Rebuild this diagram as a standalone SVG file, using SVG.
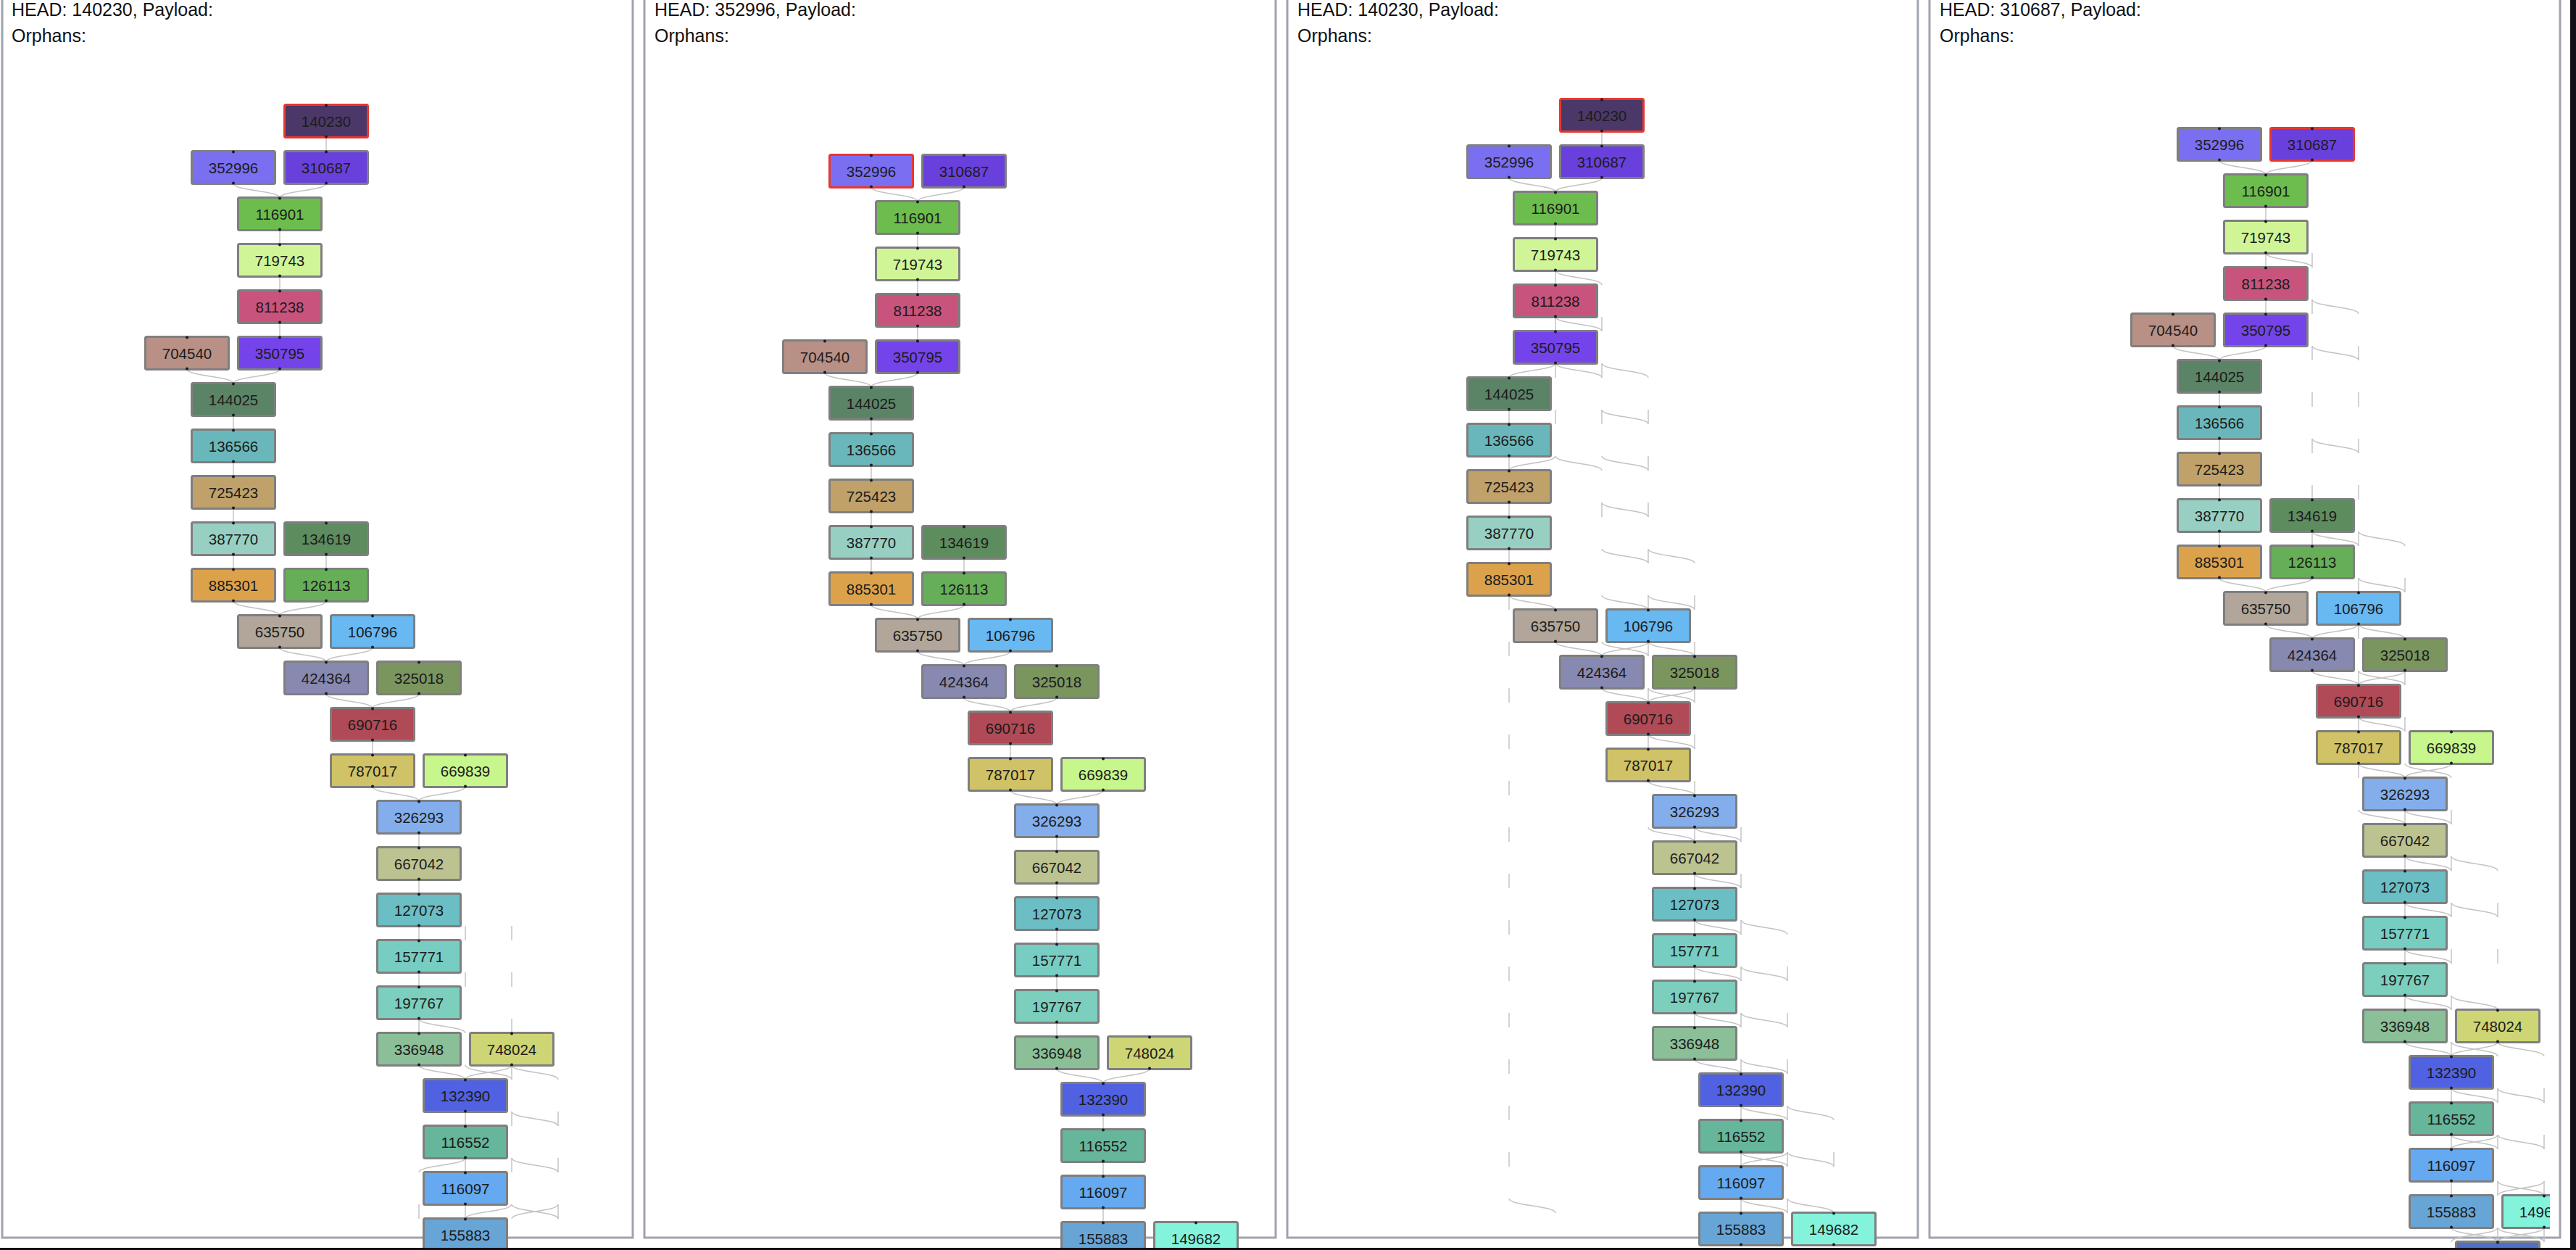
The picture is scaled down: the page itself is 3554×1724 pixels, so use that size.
<svg xmlns="http://www.w3.org/2000/svg" xmlns:xlink="http://www.w3.org/1999/xlink" width="3554" height="1724" viewBox="0 0 3554 1724">
<style>
.n rect{stroke:#7f7f7f;stroke-width:3}
.n.h rect{stroke:#e8372e}
.n text{font-family:"Liberation Sans",Arial,sans-serif;font-size:20.5px;fill:#1c1c1c;text-anchor:middle}
.c path{fill:none;stroke:#c4c4c4;stroke-width:1.5}
.hd{font-family:"Liberation Sans",Arial,sans-serif;font-size:25px;fill:#111}
.frame{fill:none;stroke:#9fa3af;stroke-width:3}
</style>
<defs>
<g id="pt" fill="#1b1b2a"><circle cx="59" cy="2.5" r="2"/><circle cx="59" cy="45.5" r="2"/></g>
<clipPath id="clip4"><rect x="-300" y="-300" width="879" height="2200"/></clipPath>
</defs>
<rect width="3554" height="1724" fill="#fff"/>
<g id="frames">
<rect class="frame" x="3" y="-20" width="870" height="1727"/>
<rect class="frame" x="889" y="-20" width="871" height="1727"/>
<rect class="frame" x="1776" y="-20" width="870" height="1727"/>
<rect class="frame" x="2662" y="-20" width="870" height="1727"/>
</g>
<g id="headers">
<text class="hd" x="16" y="22">HEAD: 140230, Payload:</text>
<text class="hd" x="16" y="58">Orphans:</text>
<text class="hd" x="903" y="22">HEAD: 352996, Payload:</text>
<text class="hd" x="903" y="58">Orphans:</text>
<text class="hd" x="1790" y="22">HEAD: 140230, Payload:</text>
<text class="hd" x="1790" y="58">Orphans:</text>
<text class="hd" x="2676" y="22">HEAD: 310687, Payload:</text>
<text class="hd" x="2676" y="58">Orphans:</text>
</g>

<!-- PANEL 1 -->
<g id="panel1" transform="translate(199 143)">
<g id="p1-connectors" class="c">
<path d="M251 46V66"/>
<path d="M123 110C123 120 187 120 187 130"/><path d="M251 110C251 120 187 120 187 130"/>
<path d="M187 174V194"/><path d="M187 238V258"/><path d="M187 302V322"/>
<path d="M59 366C59 376 123 376 123 386"/><path d="M187 366C187 376 123 376 123 386"/>
<path d="M123 430V450"/><path d="M123 494V514"/><path d="M123 558V578"/>
<path d="M123 622V642"/><path d="M251 622V642"/>
<path d="M123 686C123 696 187 696 187 706"/><path d="M251 686C251 696 187 696 187 706"/>
<path d="M187 750C187 760 251 760 251 770"/><path d="M315 750C315 760 251 760 251 770"/>
<path d="M251 814C251 824 315 824 315 834"/><path d="M379 814C379 824 315 824 315 834"/>
<path d="M315 878V898"/>
<path d="M315 942C315 952 379 952 379 962"/><path d="M443 942C443 952 379 952 379 962"/>
<path d="M379 1006V1026"/><path d="M379 1070V1090"/><path d="M379 1134V1154"/><path d="M379 1198V1218"/><path d="M379 1262V1282"/>
<path d="M379 1326C379 1336 443 1336 443 1346"/><path d="M507 1326C507 1336 443 1336 443 1346"/>
<path d="M443 1390V1410"/><path d="M443 1454V1474"/><path d="M443 1518V1538"/>
<path d="M443 1134V1154"/><path d="M507 1134V1154"/>
<path d="M443 1198V1218"/><path d="M507 1198V1218"/>
<path d="M379 1262C379 1272 443 1272 443 1282"/><path d="M507 1262V1282"/>
<path d="M507 1326V1346"/><path d="M507 1326C507 1336 571 1336 571 1346"/><path d="M443 1326C443 1336 507 1336 507 1346"/>
<path d="M507 1390V1410"/><path d="M507 1390C507 1400 571 1400 571 1410"/><path d="M571 1390V1410"/>
<path d="M443 1454C443 1464 379 1464 379 1474"/><path d="M507 1454V1474"/><path d="M507 1454C507 1464 571 1464 571 1474"/><path d="M571 1454V1474"/>
<path d="M379 1518V1538"/><path d="M507 1518C507 1528 443 1528 443 1538"/><path d="M507 1518C507 1528 571 1528 571 1538"/><path d="M571 1518C571 1528 507 1528 507 1538"/><path d="M571 1518V1538"/>
</g>
<g id="p1-140230" class="n h" transform="translate(192 0)"><rect x="1.5" y="1.5" width="115" height="45" rx="2" fill="#4b3869"/><text x="59" y="31.5">140230</text><use href="#pt"/></g>
<g id="p1-352996" class="n" transform="translate(64 64)"><rect x="1.5" y="1.5" width="115" height="45" rx="2" fill="#7a6ff0"/><text x="59" y="31.5">352996</text><use href="#pt"/></g>
<g id="p1-310687" class="n" transform="translate(192 64)"><rect x="1.5" y="1.5" width="115" height="45" rx="2" fill="#6a40dc"/><text x="59" y="31.5">310687</text><use href="#pt"/></g>
<g id="p1-116901" class="n" transform="translate(128 128)"><rect x="1.5" y="1.5" width="115" height="45" rx="2" fill="#6cbd4d"/><text x="59" y="31.5">116901</text><use href="#pt"/></g>
<g id="p1-719743" class="n" transform="translate(128 192)"><rect x="1.5" y="1.5" width="115" height="45" rx="2" fill="#d0f597"/><text x="59" y="31.5">719743</text><use href="#pt"/></g>
<g id="p1-811238" class="n" transform="translate(128 256)"><rect x="1.5" y="1.5" width="115" height="45" rx="2" fill="#c8547d"/><text x="59" y="31.5">811238</text><use href="#pt"/></g>
<g id="p1-704540" class="n" transform="translate(0 320)"><rect x="1.5" y="1.5" width="115" height="45" rx="2" fill="#b99086"/><text x="59" y="31.5">704540</text><use href="#pt"/></g>
<g id="p1-350795" class="n" transform="translate(128 320)"><rect x="1.5" y="1.5" width="115" height="45" rx="2" fill="#7444ea"/><text x="59" y="31.5">350795</text><use href="#pt"/></g>
<g id="p1-144025" class="n" transform="translate(64 384)"><rect x="1.5" y="1.5" width="115" height="45" rx="2" fill="#5b8466"/><text x="59" y="31.5">144025</text><use href="#pt"/></g>
<g id="p1-136566" class="n" transform="translate(64 448)"><rect x="1.5" y="1.5" width="115" height="45" rx="2" fill="#6ab7bb"/><text x="59" y="31.5">136566</text><use href="#pt"/></g>
<g id="p1-725423" class="n" transform="translate(64 512)"><rect x="1.5" y="1.5" width="115" height="45" rx="2" fill="#c0a16a"/><text x="59" y="31.5">725423</text><use href="#pt"/></g>
<g id="p1-387770" class="n" transform="translate(64 576)"><rect x="1.5" y="1.5" width="115" height="45" rx="2" fill="#97d0c3"/><text x="59" y="31.5">387770</text><use href="#pt"/></g>
<g id="p1-134619" class="n" transform="translate(192 576)"><rect x="1.5" y="1.5" width="115" height="45" rx="2" fill="#5d8c5f"/><text x="59" y="31.5">134619</text><use href="#pt"/></g>
<g id="p1-885301" class="n" transform="translate(64 640)"><rect x="1.5" y="1.5" width="115" height="45" rx="2" fill="#dca24b"/><text x="59" y="31.5">885301</text><use href="#pt"/></g>
<g id="p1-126113" class="n" transform="translate(192 640)"><rect x="1.5" y="1.5" width="115" height="45" rx="2" fill="#67ae58"/><text x="59" y="31.5">126113</text><use href="#pt"/></g>
<g id="p1-635750" class="n" transform="translate(128 704)"><rect x="1.5" y="1.5" width="115" height="45" rx="2" fill="#b1a699"/><text x="59" y="31.5">635750</text><use href="#pt"/></g>
<g id="p1-106796" class="n" transform="translate(256 704)"><rect x="1.5" y="1.5" width="115" height="45" rx="2" fill="#68b8f1"/><text x="59" y="31.5">106796</text><use href="#pt"/></g>
<g id="p1-424364" class="n" transform="translate(192 768)"><rect x="1.5" y="1.5" width="115" height="45" rx="2" fill="#8889b1"/><text x="59" y="31.5">424364</text><use href="#pt"/></g>
<g id="p1-325018" class="n" transform="translate(320 768)"><rect x="1.5" y="1.5" width="115" height="45" rx="2" fill="#7b955f"/><text x="59" y="31.5">325018</text><use href="#pt"/></g>
<g id="p1-690716" class="n" transform="translate(256 832)"><rect x="1.5" y="1.5" width="115" height="45" rx="2" fill="#b04a56"/><text x="59" y="31.5">690716</text><use href="#pt"/></g>
<g id="p1-787017" class="n" transform="translate(256 896)"><rect x="1.5" y="1.5" width="115" height="45" rx="2" fill="#d0c266"/><text x="59" y="31.5">787017</text><use href="#pt"/></g>
<g id="p1-669839" class="n" transform="translate(384 896)"><rect x="1.5" y="1.5" width="115" height="45" rx="2" fill="#c7f68c"/><text x="59" y="31.5">669839</text><use href="#pt"/></g>
<g id="p1-326293" class="n" transform="translate(320 960)"><rect x="1.5" y="1.5" width="115" height="45" rx="2" fill="#83aeeb"/><text x="59" y="31.5">326293</text><use href="#pt"/></g>
<g id="p1-667042" class="n" transform="translate(320 1024)"><rect x="1.5" y="1.5" width="115" height="45" rx="2" fill="#bcc390"/><text x="59" y="31.5">667042</text><use href="#pt"/></g>
<g id="p1-127073" class="n" transform="translate(320 1088)"><rect x="1.5" y="1.5" width="115" height="45" rx="2" fill="#6bbec4"/><text x="59" y="31.5">127073</text><use href="#pt"/></g>
<g id="p1-157771" class="n" transform="translate(320 1152)"><rect x="1.5" y="1.5" width="115" height="45" rx="2" fill="#77cdc2"/><text x="59" y="31.5">157771</text><use href="#pt"/></g>
<g id="p1-197767" class="n" transform="translate(320 1216)"><rect x="1.5" y="1.5" width="115" height="45" rx="2" fill="#7ccebd"/><text x="59" y="31.5">197767</text><use href="#pt"/></g>
<g id="p1-336948" class="n" transform="translate(320 1280)"><rect x="1.5" y="1.5" width="115" height="45" rx="2" fill="#8abf97"/><text x="59" y="31.5">336948</text><use href="#pt"/></g>
<g id="p1-748024" class="n" transform="translate(448 1280)"><rect x="1.5" y="1.5" width="115" height="45" rx="2" fill="#ced574"/><text x="59" y="31.5">748024</text><use href="#pt"/></g>
<g id="p1-132390" class="n" transform="translate(384 1344)"><rect x="1.5" y="1.5" width="115" height="45" rx="2" fill="#5061e1"/><text x="59" y="31.5">132390</text><use href="#pt"/></g>
<g id="p1-116552" class="n" transform="translate(384 1408)"><rect x="1.5" y="1.5" width="115" height="45" rx="2" fill="#66b69b"/><text x="59" y="31.5">116552</text><use href="#pt"/></g>
<g id="p1-116097" class="n" transform="translate(384 1472)"><rect x="1.5" y="1.5" width="115" height="45" rx="2" fill="#65a9f1"/><text x="59" y="31.5">116097</text><use href="#pt"/></g>
<g id="p1-155883" class="n" transform="translate(384 1536)"><rect x="1.5" y="1.5" width="115" height="45" rx="2" fill="#68a5d7"/><text x="59" y="31.5">155883</text><use href="#pt"/></g>
</g>

<!-- PANEL 2 -->
<g id="panel2" transform="translate(1079 212)">
<g id="p2-connectors" class="c">
<path d="M123 46C123 56 187 56 187 66"/><path d="M251 46C251 56 187 56 187 66"/>
<path d="M187 110V130"/><path d="M187 174V194"/><path d="M187 238V258"/>
<path d="M59 302C59 312 123 312 123 322"/><path d="M187 302C187 312 123 312 123 322"/>
<path d="M123 366V386"/><path d="M123 430V450"/><path d="M123 494V514"/>
<path d="M123 558V578"/><path d="M251 558V578"/>
<path d="M123 622C123 632 187 632 187 642"/><path d="M251 622C251 632 187 632 187 642"/>
<path d="M187 686C187 696 251 696 251 706"/><path d="M315 686C315 696 251 696 251 706"/>
<path d="M251 750C251 760 315 760 315 770"/><path d="M379 750C379 760 315 760 315 770"/>
<path d="M315 814V834"/>
<path d="M315 878C315 888 379 888 379 898"/><path d="M443 878C443 888 379 888 379 898"/>
<path d="M379 942V962"/><path d="M379 1006V1026"/><path d="M379 1070V1090"/><path d="M379 1134V1154"/><path d="M379 1198V1218"/>
<path d="M379 1262C379 1272 443 1272 443 1282"/><path d="M507 1262C507 1272 443 1272 443 1282"/>
<path d="M443 1326V1346"/><path d="M443 1390V1410"/><path d="M443 1454V1474"/>
</g>
<g id="p2-352996" class="n h" transform="translate(64 0)"><rect x="1.5" y="1.5" width="115" height="45" rx="2" fill="#7a6ff0"/><text x="59" y="31.5">352996</text><use href="#pt"/></g>
<g id="p2-310687" class="n" transform="translate(192 0)"><rect x="1.5" y="1.5" width="115" height="45" rx="2" fill="#6a40dc"/><text x="59" y="31.5">310687</text><use href="#pt"/></g>
<g id="p2-116901" class="n" transform="translate(128 64)"><rect x="1.5" y="1.5" width="115" height="45" rx="2" fill="#6cbd4d"/><text x="59" y="31.5">116901</text><use href="#pt"/></g>
<g id="p2-719743" class="n" transform="translate(128 128)"><rect x="1.5" y="1.5" width="115" height="45" rx="2" fill="#d0f597"/><text x="59" y="31.5">719743</text><use href="#pt"/></g>
<g id="p2-811238" class="n" transform="translate(128 192)"><rect x="1.5" y="1.5" width="115" height="45" rx="2" fill="#c8547d"/><text x="59" y="31.5">811238</text><use href="#pt"/></g>
<g id="p2-704540" class="n" transform="translate(0 256)"><rect x="1.5" y="1.5" width="115" height="45" rx="2" fill="#b99086"/><text x="59" y="31.5">704540</text><use href="#pt"/></g>
<g id="p2-350795" class="n" transform="translate(128 256)"><rect x="1.5" y="1.5" width="115" height="45" rx="2" fill="#7444ea"/><text x="59" y="31.5">350795</text><use href="#pt"/></g>
<g id="p2-144025" class="n" transform="translate(64 320)"><rect x="1.5" y="1.5" width="115" height="45" rx="2" fill="#5b8466"/><text x="59" y="31.5">144025</text><use href="#pt"/></g>
<g id="p2-136566" class="n" transform="translate(64 384)"><rect x="1.5" y="1.5" width="115" height="45" rx="2" fill="#6ab7bb"/><text x="59" y="31.5">136566</text><use href="#pt"/></g>
<g id="p2-725423" class="n" transform="translate(64 448)"><rect x="1.5" y="1.5" width="115" height="45" rx="2" fill="#c0a16a"/><text x="59" y="31.5">725423</text><use href="#pt"/></g>
<g id="p2-387770" class="n" transform="translate(64 512)"><rect x="1.5" y="1.5" width="115" height="45" rx="2" fill="#97d0c3"/><text x="59" y="31.5">387770</text><use href="#pt"/></g>
<g id="p2-134619" class="n" transform="translate(192 512)"><rect x="1.5" y="1.5" width="115" height="45" rx="2" fill="#5d8c5f"/><text x="59" y="31.5">134619</text><use href="#pt"/></g>
<g id="p2-885301" class="n" transform="translate(64 576)"><rect x="1.5" y="1.5" width="115" height="45" rx="2" fill="#dca24b"/><text x="59" y="31.5">885301</text><use href="#pt"/></g>
<g id="p2-126113" class="n" transform="translate(192 576)"><rect x="1.5" y="1.5" width="115" height="45" rx="2" fill="#67ae58"/><text x="59" y="31.5">126113</text><use href="#pt"/></g>
<g id="p2-635750" class="n" transform="translate(128 640)"><rect x="1.5" y="1.5" width="115" height="45" rx="2" fill="#b1a699"/><text x="59" y="31.5">635750</text><use href="#pt"/></g>
<g id="p2-106796" class="n" transform="translate(256 640)"><rect x="1.5" y="1.5" width="115" height="45" rx="2" fill="#68b8f1"/><text x="59" y="31.5">106796</text><use href="#pt"/></g>
<g id="p2-424364" class="n" transform="translate(192 704)"><rect x="1.5" y="1.5" width="115" height="45" rx="2" fill="#8889b1"/><text x="59" y="31.5">424364</text><use href="#pt"/></g>
<g id="p2-325018" class="n" transform="translate(320 704)"><rect x="1.5" y="1.5" width="115" height="45" rx="2" fill="#7b955f"/><text x="59" y="31.5">325018</text><use href="#pt"/></g>
<g id="p2-690716" class="n" transform="translate(256 768)"><rect x="1.5" y="1.5" width="115" height="45" rx="2" fill="#b04a56"/><text x="59" y="31.5">690716</text><use href="#pt"/></g>
<g id="p2-787017" class="n" transform="translate(256 832)"><rect x="1.5" y="1.5" width="115" height="45" rx="2" fill="#d0c266"/><text x="59" y="31.5">787017</text><use href="#pt"/></g>
<g id="p2-669839" class="n" transform="translate(384 832)"><rect x="1.5" y="1.5" width="115" height="45" rx="2" fill="#c7f68c"/><text x="59" y="31.5">669839</text><use href="#pt"/></g>
<g id="p2-326293" class="n" transform="translate(320 896)"><rect x="1.5" y="1.5" width="115" height="45" rx="2" fill="#83aeeb"/><text x="59" y="31.5">326293</text><use href="#pt"/></g>
<g id="p2-667042" class="n" transform="translate(320 960)"><rect x="1.5" y="1.5" width="115" height="45" rx="2" fill="#bcc390"/><text x="59" y="31.5">667042</text><use href="#pt"/></g>
<g id="p2-127073" class="n" transform="translate(320 1024)"><rect x="1.5" y="1.5" width="115" height="45" rx="2" fill="#6bbec4"/><text x="59" y="31.5">127073</text><use href="#pt"/></g>
<g id="p2-157771" class="n" transform="translate(320 1088)"><rect x="1.5" y="1.5" width="115" height="45" rx="2" fill="#77cdc2"/><text x="59" y="31.5">157771</text><use href="#pt"/></g>
<g id="p2-197767" class="n" transform="translate(320 1152)"><rect x="1.5" y="1.5" width="115" height="45" rx="2" fill="#7ccebd"/><text x="59" y="31.5">197767</text><use href="#pt"/></g>
<g id="p2-336948" class="n" transform="translate(320 1216)"><rect x="1.5" y="1.5" width="115" height="45" rx="2" fill="#8abf97"/><text x="59" y="31.5">336948</text><use href="#pt"/></g>
<g id="p2-748024" class="n" transform="translate(448 1216)"><rect x="1.5" y="1.5" width="115" height="45" rx="2" fill="#ced574"/><text x="59" y="31.5">748024</text><use href="#pt"/></g>
<g id="p2-132390" class="n" transform="translate(384 1280)"><rect x="1.5" y="1.5" width="115" height="45" rx="2" fill="#5061e1"/><text x="59" y="31.5">132390</text><use href="#pt"/></g>
<g id="p2-116552" class="n" transform="translate(384 1344)"><rect x="1.5" y="1.5" width="115" height="45" rx="2" fill="#66b69b"/><text x="59" y="31.5">116552</text><use href="#pt"/></g>
<g id="p2-116097" class="n" transform="translate(384 1408)"><rect x="1.5" y="1.5" width="115" height="45" rx="2" fill="#65a9f1"/><text x="59" y="31.5">116097</text><use href="#pt"/></g>
<g id="p2-155883" class="n" transform="translate(384 1472)"><rect x="1.5" y="1.5" width="115" height="45" rx="2" fill="#68a5d7"/><text x="59" y="31.5">155883</text><use href="#pt"/></g>
<g id="p2-149682" class="n" transform="translate(512 1472)"><rect x="1.5" y="1.5" width="115" height="45" rx="2" fill="#84f3dc"/><text x="59" y="31.5">149682</text><use href="#pt"/></g>
</g>

<!-- PANEL 3 -->
<g id="panel3" transform="translate(1959 135)">
<g id="p3-connectors" class="c">
<path d="M251 46V66"/>
<path d="M123 110C123 120 187 120 187 130"/><path d="M251 110C251 120 187 120 187 130"/>
<path d="M187 174V194"/><path d="M187 238V258"/><path d="M187 302V322"/>
<path d="M187 366C187 376 123 376 123 386"/>
<path d="M123 430V450"/><path d="M123 494V514"/><path d="M123 558V578"/><path d="M123 622V642"/>
<path d="M123 686C123 696 187 696 187 706"/>
<path d="M187 750C187 760 251 760 251 770"/><path d="M315 750C315 760 251 760 251 770"/>
<path d="M251 814C251 824 315 824 315 834"/><path d="M379 814C379 824 315 824 315 834"/>
<path d="M315 878V898"/>
<path d="M315 942C315 952 379 952 379 962"/>
<path d="M379 1006V1026"/><path d="M379 1070V1090"/><path d="M379 1134V1154"/><path d="M379 1198V1218"/><path d="M379 1262V1282"/>
<path d="M379 1326C379 1336 443 1336 443 1346"/>
<path d="M443 1390V1410"/><path d="M443 1454V1474"/><path d="M443 1518V1538"/>
<path d="M187 238C187 248 251 248 251 258"/>
<path d="M187 302C187 312 251 312 251 322"/><path d="M251 302V322"/>
<path d="M187 366V386"/><path d="M187 366C187 376 251 376 251 386"/><path d="M251 366V386"/><path d="M251 366C251 376 315 376 315 386"/>
<path d="M187 430V450"/><path d="M251 430V450"/><path d="M251 430C251 440 315 440 315 450"/><path d="M315 430V450"/>
<path d="M187 494C187 504 123 504 123 514"/><path d="M187 494C187 504 251 504 251 514"/><path d="M251 494C251 504 315 504 315 514"/><path d="M315 494V514"/>
<path d="M251 558V578"/><path d="M251 558C251 568 315 568 315 578"/><path d="M315 558V578"/>
<path d="M251 622C251 632 315 632 315 642"/><path d="M315 622V642"/><path d="M315 622C315 632 379 632 379 642"/>
<path d="M123 686V706"/><path d="M251 686C251 696 315 696 315 706"/><path d="M315 686V706"/><path d="M315 686C315 696 379 696 379 706"/><path d="M379 686V706"/>
<path d="M123 750V770"/><path d="M251 750C251 760 315 760 315 770"/><path d="M315 750V770"/><path d="M315 750C315 760 379 760 379 770"/><path d="M379 750V770"/>
<path d="M123 814V834"/><path d="M315 814V834"/><path d="M379 814V834"/><path d="M315 814C315 824 379 824 379 834"/>
<path d="M123 878V898"/><path d="M315 878C315 888 379 888 379 898"/><path d="M379 878V898"/>
<path d="M123 942V962"/><path d="M379 942V962"/>
<path d="M123 1006V1026"/><path d="M315 1006C315 1016 379 1016 379 1026"/><path d="M379 1006C379 1016 443 1016 443 1026"/><path d="M443 1006V1026"/>
<path d="M123 1070V1090"/><path d="M379 1070C379 1080 443 1080 443 1090"/><path d="M443 1070V1090"/>
<path d="M123 1134V1154"/><path d="M379 1134C379 1144 443 1144 443 1154"/><path d="M443 1134C443 1144 507 1144 507 1154"/><path d="M443 1134V1154"/>
<path d="M123 1198V1218"/><path d="M379 1198C379 1208 443 1208 443 1218"/><path d="M443 1198V1218"/><path d="M443 1198C443 1208 507 1208 507 1218"/><path d="M507 1198V1218"/>
<path d="M123 1262V1282"/><path d="M379 1262C379 1272 443 1272 443 1282"/><path d="M443 1262V1282"/><path d="M443 1262C443 1272 507 1272 507 1282"/><path d="M507 1262V1282"/>
<path d="M123 1326V1346"/><path d="M443 1326V1346"/><path d="M443 1326C443 1336 507 1336 507 1346"/><path d="M507 1326V1346"/>
<path d="M123 1390V1410"/><path d="M443 1390C443 1400 507 1400 507 1410"/><path d="M507 1390V1410"/><path d="M507 1390C507 1400 571 1400 571 1410"/>
<path d="M123 1454V1474"/><path d="M443 1454C443 1464 507 1464 507 1474"/><path d="M507 1454C507 1464 443 1464 443 1474"/><path d="M507 1454V1474"/><path d="M507 1454C507 1464 571 1464 571 1474"/><path d="M571 1454V1474"/>
<path d="M123 1518C123 1528 187 1528 187 1538"/><path d="M443 1518C443 1528 507 1528 507 1538"/><path d="M507 1518V1538"/><path d="M507 1518C507 1528 571 1528 571 1538"/>
</g>
<g id="p3-140230" class="n h" transform="translate(192 0)"><rect x="1.5" y="1.5" width="115" height="45" rx="2" fill="#4b3869"/><text x="59" y="31.5">140230</text><use href="#pt"/></g>
<g id="p3-352996" class="n" transform="translate(64 64)"><rect x="1.5" y="1.5" width="115" height="45" rx="2" fill="#7a6ff0"/><text x="59" y="31.5">352996</text><use href="#pt"/></g>
<g id="p3-310687" class="n" transform="translate(192 64)"><rect x="1.5" y="1.5" width="115" height="45" rx="2" fill="#6a40dc"/><text x="59" y="31.5">310687</text><use href="#pt"/></g>
<g id="p3-116901" class="n" transform="translate(128 128)"><rect x="1.5" y="1.5" width="115" height="45" rx="2" fill="#6cbd4d"/><text x="59" y="31.5">116901</text><use href="#pt"/></g>
<g id="p3-719743" class="n" transform="translate(128 192)"><rect x="1.5" y="1.5" width="115" height="45" rx="2" fill="#d0f597"/><text x="59" y="31.5">719743</text><use href="#pt"/></g>
<g id="p3-811238" class="n" transform="translate(128 256)"><rect x="1.5" y="1.5" width="115" height="45" rx="2" fill="#c8547d"/><text x="59" y="31.5">811238</text><use href="#pt"/></g>
<g id="p3-350795" class="n" transform="translate(128 320)"><rect x="1.5" y="1.5" width="115" height="45" rx="2" fill="#7444ea"/><text x="59" y="31.5">350795</text><use href="#pt"/></g>
<g id="p3-144025" class="n" transform="translate(64 384)"><rect x="1.5" y="1.5" width="115" height="45" rx="2" fill="#5b8466"/><text x="59" y="31.5">144025</text><use href="#pt"/></g>
<g id="p3-136566" class="n" transform="translate(64 448)"><rect x="1.5" y="1.5" width="115" height="45" rx="2" fill="#6ab7bb"/><text x="59" y="31.5">136566</text><use href="#pt"/></g>
<g id="p3-725423" class="n" transform="translate(64 512)"><rect x="1.5" y="1.5" width="115" height="45" rx="2" fill="#c0a16a"/><text x="59" y="31.5">725423</text><use href="#pt"/></g>
<g id="p3-387770" class="n" transform="translate(64 576)"><rect x="1.5" y="1.5" width="115" height="45" rx="2" fill="#97d0c3"/><text x="59" y="31.5">387770</text><use href="#pt"/></g>
<g id="p3-885301" class="n" transform="translate(64 640)"><rect x="1.5" y="1.5" width="115" height="45" rx="2" fill="#dca24b"/><text x="59" y="31.5">885301</text><use href="#pt"/></g>
<g id="p3-635750" class="n" transform="translate(128 704)"><rect x="1.5" y="1.5" width="115" height="45" rx="2" fill="#b1a699"/><text x="59" y="31.5">635750</text><use href="#pt"/></g>
<g id="p3-106796" class="n" transform="translate(256 704)"><rect x="1.5" y="1.5" width="115" height="45" rx="2" fill="#68b8f1"/><text x="59" y="31.5">106796</text><use href="#pt"/></g>
<g id="p3-424364" class="n" transform="translate(192 768)"><rect x="1.5" y="1.5" width="115" height="45" rx="2" fill="#8889b1"/><text x="59" y="31.5">424364</text><use href="#pt"/></g>
<g id="p3-325018" class="n" transform="translate(320 768)"><rect x="1.5" y="1.5" width="115" height="45" rx="2" fill="#7b955f"/><text x="59" y="31.5">325018</text><use href="#pt"/></g>
<g id="p3-690716" class="n" transform="translate(256 832)"><rect x="1.5" y="1.5" width="115" height="45" rx="2" fill="#b04a56"/><text x="59" y="31.5">690716</text><use href="#pt"/></g>
<g id="p3-787017" class="n" transform="translate(256 896)"><rect x="1.5" y="1.5" width="115" height="45" rx="2" fill="#d0c266"/><text x="59" y="31.5">787017</text><use href="#pt"/></g>
<g id="p3-326293" class="n" transform="translate(320 960)"><rect x="1.5" y="1.5" width="115" height="45" rx="2" fill="#83aeeb"/><text x="59" y="31.5">326293</text><use href="#pt"/></g>
<g id="p3-667042" class="n" transform="translate(320 1024)"><rect x="1.5" y="1.5" width="115" height="45" rx="2" fill="#bcc390"/><text x="59" y="31.5">667042</text><use href="#pt"/></g>
<g id="p3-127073" class="n" transform="translate(320 1088)"><rect x="1.5" y="1.5" width="115" height="45" rx="2" fill="#6bbec4"/><text x="59" y="31.5">127073</text><use href="#pt"/></g>
<g id="p3-157771" class="n" transform="translate(320 1152)"><rect x="1.5" y="1.5" width="115" height="45" rx="2" fill="#77cdc2"/><text x="59" y="31.5">157771</text><use href="#pt"/></g>
<g id="p3-197767" class="n" transform="translate(320 1216)"><rect x="1.5" y="1.5" width="115" height="45" rx="2" fill="#7ccebd"/><text x="59" y="31.5">197767</text><use href="#pt"/></g>
<g id="p3-336948" class="n" transform="translate(320 1280)"><rect x="1.5" y="1.5" width="115" height="45" rx="2" fill="#8abf97"/><text x="59" y="31.5">336948</text><use href="#pt"/></g>
<g id="p3-132390" class="n" transform="translate(384 1344)"><rect x="1.5" y="1.5" width="115" height="45" rx="2" fill="#5061e1"/><text x="59" y="31.5">132390</text><use href="#pt"/></g>
<g id="p3-116552" class="n" transform="translate(384 1408)"><rect x="1.5" y="1.5" width="115" height="45" rx="2" fill="#66b69b"/><text x="59" y="31.5">116552</text><use href="#pt"/></g>
<g id="p3-116097" class="n" transform="translate(384 1472)"><rect x="1.5" y="1.5" width="115" height="45" rx="2" fill="#65a9f1"/><text x="59" y="31.5">116097</text><use href="#pt"/></g>
<g id="p3-155883" class="n" transform="translate(384 1536)"><rect x="1.5" y="1.5" width="115" height="45" rx="2" fill="#68a5d7"/><text x="59" y="31.5">155883</text><use href="#pt"/></g>
<g id="p3-149682" class="n" transform="translate(512 1536)"><rect x="1.5" y="1.5" width="115" height="45" rx="2" fill="#84f3dc"/><text x="59" y="31.5">149682</text><use href="#pt"/></g>
</g>

<!-- PANEL 4 -->
<g id="panel4" transform="translate(2939 175)" clip-path="url(#clip4)">
<g id="p4-connectors" class="c">
<path d="M123 46C123 56 187 56 187 66"/><path d="M251 46C251 56 187 56 187 66"/>
<path d="M187 110V130"/><path d="M187 174V194"/><path d="M187 238V258"/>
<path d="M59 302C59 312 123 312 123 322"/><path d="M187 302C187 312 123 312 123 322"/>
<path d="M123 366V386"/><path d="M123 430V450"/><path d="M123 494V514"/>
<path d="M123 558V578"/><path d="M251 558V578"/>
<path d="M123 622C123 632 187 632 187 642"/><path d="M251 622C251 632 187 632 187 642"/>
<path d="M187 686C187 696 251 696 251 706"/><path d="M315 686C315 696 251 696 251 706"/>
<path d="M251 750C251 760 315 760 315 770"/><path d="M379 750C379 760 315 760 315 770"/>
<path d="M315 814V834"/>
<path d="M315 878C315 888 379 888 379 898"/><path d="M443 878C443 888 379 888 379 898"/>
<path d="M379 942V962"/><path d="M379 1006V1026"/><path d="M379 1070V1090"/><path d="M379 1134V1154"/><path d="M379 1198V1218"/>
<path d="M379 1262C379 1272 443 1272 443 1282"/><path d="M507 1262C507 1272 443 1272 443 1282"/>
<path d="M443 1326V1346"/><path d="M443 1390V1410"/><path d="M443 1454V1474"/>
<path d="M443 1518C443 1528 507 1528 507 1538"/><path d="M571 1518C571 1528 507 1528 507 1538"/>
<path d="M187 174C187 184 251 184 251 194"/><path d="M251 174V194"/>
<path d="M251 238V258"/><path d="M251 238C251 248 315 248 315 258"/>
<path d="M251 302V322"/><path d="M251 302C251 312 315 312 315 322"/><path d="M315 302V322"/>
<path d="M251 366V386"/><path d="M315 366V386"/>
<path d="M251 430V450"/><path d="M251 430C251 440 315 440 315 450"/><path d="M315 430V450"/>
<path d="M251 494V514"/><path d="M315 494V514"/>
<path d="M251 558C251 568 315 568 315 578"/><path d="M315 558V578"/><path d="M315 558C315 568 379 568 379 578"/>
<path d="M315 622V642"/><path d="M315 622C315 632 379 632 379 642"/><path d="M379 622V642"/>
<path d="M315 686V706"/><path d="M315 686C315 696 379 696 379 706"/>
<path d="M315 750V770"/><path d="M315 750C315 760 379 760 379 770"/><path d="M379 750V770"/>
<path d="M315 814C315 824 379 824 379 834"/><path d="M379 814V834"/>
<path d="M315 878V898"/><path d="M379 878C379 888 443 888 443 898"/>
<path d="M315 942C315 952 379 952 379 962"/><path d="M379 942C379 952 443 952 443 962"/><path d="M443 942V962"/>
<path d="M379 1006C379 1016 443 1016 443 1026"/><path d="M443 1006V1026"/><path d="M443 1006C443 1016 507 1016 507 1026"/>
<path d="M379 1070C379 1080 443 1080 443 1090"/><path d="M443 1070V1090"/><path d="M443 1070C443 1080 507 1080 507 1090"/><path d="M507 1070V1090"/>
<path d="M379 1134C379 1144 443 1144 443 1154"/><path d="M443 1134V1154"/><path d="M507 1134V1154"/>
<path d="M379 1198C379 1208 443 1208 443 1218"/><path d="M443 1198V1218"/><path d="M443 1198C443 1208 507 1208 507 1218"/>
<path d="M443 1262V1282"/><path d="M443 1262C443 1272 507 1272 507 1282"/><path d="M507 1262C507 1272 571 1272 571 1282"/>
<path d="M443 1326C443 1336 507 1336 507 1346"/><path d="M507 1326V1346"/><path d="M507 1326C507 1336 571 1336 571 1346"/><path d="M571 1326V1346"/>
<path d="M443 1390C443 1400 507 1400 507 1410"/><path d="M507 1390C507 1400 443 1400 443 1410"/><path d="M507 1390V1410"/><path d="M507 1390C507 1400 571 1400 571 1410"/><path d="M571 1390V1410"/>
<path d="M507 1454V1474"/><path d="M507 1454C507 1464 571 1464 571 1474"/><path d="M571 1454C571 1464 507 1464 507 1474"/><path d="M571 1454V1474"/>
<path d="M507 1518C507 1528 443 1528 443 1538"/><path d="M507 1518C507 1528 571 1528 571 1538"/><path d="M507 1518V1538"/><path d="M571 1518V1538"/>
</g>
<g id="p4-352996" class="n" transform="translate(64 0)"><rect x="1.5" y="1.5" width="115" height="45" rx="2" fill="#7a6ff0"/><text x="59" y="31.5">352996</text><use href="#pt"/></g>
<g id="p4-310687" class="n h" transform="translate(192 0)"><rect x="1.5" y="1.5" width="115" height="45" rx="2" fill="#6a40dc"/><text x="59" y="31.5">310687</text><use href="#pt"/></g>
<g id="p4-116901" class="n" transform="translate(128 64)"><rect x="1.5" y="1.5" width="115" height="45" rx="2" fill="#6cbd4d"/><text x="59" y="31.5">116901</text><use href="#pt"/></g>
<g id="p4-719743" class="n" transform="translate(128 128)"><rect x="1.5" y="1.5" width="115" height="45" rx="2" fill="#d0f597"/><text x="59" y="31.5">719743</text><use href="#pt"/></g>
<g id="p4-811238" class="n" transform="translate(128 192)"><rect x="1.5" y="1.5" width="115" height="45" rx="2" fill="#c8547d"/><text x="59" y="31.5">811238</text><use href="#pt"/></g>
<g id="p4-704540" class="n" transform="translate(0 256)"><rect x="1.5" y="1.5" width="115" height="45" rx="2" fill="#b99086"/><text x="59" y="31.5">704540</text><use href="#pt"/></g>
<g id="p4-350795" class="n" transform="translate(128 256)"><rect x="1.5" y="1.5" width="115" height="45" rx="2" fill="#7444ea"/><text x="59" y="31.5">350795</text><use href="#pt"/></g>
<g id="p4-144025" class="n" transform="translate(64 320)"><rect x="1.5" y="1.5" width="115" height="45" rx="2" fill="#5b8466"/><text x="59" y="31.5">144025</text><use href="#pt"/></g>
<g id="p4-136566" class="n" transform="translate(64 384)"><rect x="1.5" y="1.5" width="115" height="45" rx="2" fill="#6ab7bb"/><text x="59" y="31.5">136566</text><use href="#pt"/></g>
<g id="p4-725423" class="n" transform="translate(64 448)"><rect x="1.5" y="1.5" width="115" height="45" rx="2" fill="#c0a16a"/><text x="59" y="31.5">725423</text><use href="#pt"/></g>
<g id="p4-387770" class="n" transform="translate(64 512)"><rect x="1.5" y="1.5" width="115" height="45" rx="2" fill="#97d0c3"/><text x="59" y="31.5">387770</text><use href="#pt"/></g>
<g id="p4-134619" class="n" transform="translate(192 512)"><rect x="1.5" y="1.5" width="115" height="45" rx="2" fill="#5d8c5f"/><text x="59" y="31.5">134619</text><use href="#pt"/></g>
<g id="p4-885301" class="n" transform="translate(64 576)"><rect x="1.5" y="1.5" width="115" height="45" rx="2" fill="#dca24b"/><text x="59" y="31.5">885301</text><use href="#pt"/></g>
<g id="p4-126113" class="n" transform="translate(192 576)"><rect x="1.5" y="1.5" width="115" height="45" rx="2" fill="#67ae58"/><text x="59" y="31.5">126113</text><use href="#pt"/></g>
<g id="p4-635750" class="n" transform="translate(128 640)"><rect x="1.5" y="1.5" width="115" height="45" rx="2" fill="#b1a699"/><text x="59" y="31.5">635750</text><use href="#pt"/></g>
<g id="p4-106796" class="n" transform="translate(256 640)"><rect x="1.5" y="1.5" width="115" height="45" rx="2" fill="#68b8f1"/><text x="59" y="31.5">106796</text><use href="#pt"/></g>
<g id="p4-424364" class="n" transform="translate(192 704)"><rect x="1.5" y="1.5" width="115" height="45" rx="2" fill="#8889b1"/><text x="59" y="31.5">424364</text><use href="#pt"/></g>
<g id="p4-325018" class="n" transform="translate(320 704)"><rect x="1.5" y="1.5" width="115" height="45" rx="2" fill="#7b955f"/><text x="59" y="31.5">325018</text><use href="#pt"/></g>
<g id="p4-690716" class="n" transform="translate(256 768)"><rect x="1.5" y="1.5" width="115" height="45" rx="2" fill="#b04a56"/><text x="59" y="31.5">690716</text><use href="#pt"/></g>
<g id="p4-787017" class="n" transform="translate(256 832)"><rect x="1.5" y="1.5" width="115" height="45" rx="2" fill="#d0c266"/><text x="59" y="31.5">787017</text><use href="#pt"/></g>
<g id="p4-669839" class="n" transform="translate(384 832)"><rect x="1.5" y="1.5" width="115" height="45" rx="2" fill="#c7f68c"/><text x="59" y="31.5">669839</text><use href="#pt"/></g>
<g id="p4-326293" class="n" transform="translate(320 896)"><rect x="1.5" y="1.5" width="115" height="45" rx="2" fill="#83aeeb"/><text x="59" y="31.5">326293</text><use href="#pt"/></g>
<g id="p4-667042" class="n" transform="translate(320 960)"><rect x="1.5" y="1.5" width="115" height="45" rx="2" fill="#bcc390"/><text x="59" y="31.5">667042</text><use href="#pt"/></g>
<g id="p4-127073" class="n" transform="translate(320 1024)"><rect x="1.5" y="1.5" width="115" height="45" rx="2" fill="#6bbec4"/><text x="59" y="31.5">127073</text><use href="#pt"/></g>
<g id="p4-157771" class="n" transform="translate(320 1088)"><rect x="1.5" y="1.5" width="115" height="45" rx="2" fill="#77cdc2"/><text x="59" y="31.5">157771</text><use href="#pt"/></g>
<g id="p4-197767" class="n" transform="translate(320 1152)"><rect x="1.5" y="1.5" width="115" height="45" rx="2" fill="#7ccebd"/><text x="59" y="31.5">197767</text><use href="#pt"/></g>
<g id="p4-336948" class="n" transform="translate(320 1216)"><rect x="1.5" y="1.5" width="115" height="45" rx="2" fill="#8abf97"/><text x="59" y="31.5">336948</text><use href="#pt"/></g>
<g id="p4-748024" class="n" transform="translate(448 1216)"><rect x="1.5" y="1.5" width="115" height="45" rx="2" fill="#ced574"/><text x="59" y="31.5">748024</text><use href="#pt"/></g>
<g id="p4-132390" class="n" transform="translate(384 1280)"><rect x="1.5" y="1.5" width="115" height="45" rx="2" fill="#5061e1"/><text x="59" y="31.5">132390</text><use href="#pt"/></g>
<g id="p4-116552" class="n" transform="translate(384 1344)"><rect x="1.5" y="1.5" width="115" height="45" rx="2" fill="#66b69b"/><text x="59" y="31.5">116552</text><use href="#pt"/></g>
<g id="p4-116097" class="n" transform="translate(384 1408)"><rect x="1.5" y="1.5" width="115" height="45" rx="2" fill="#65a9f1"/><text x="59" y="31.5">116097</text><use href="#pt"/></g>
<g id="p4-155883" class="n" transform="translate(384 1472)"><rect x="1.5" y="1.5" width="115" height="45" rx="2" fill="#68a5d7"/><text x="59" y="31.5">155883</text><use href="#pt"/></g>
<g id="p4-149682" class="n" transform="translate(512 1472)"><rect x="1.5" y="1.5" width="115" height="45" rx="2" fill="#84f3dc"/><text x="59" y="31.5">149682</text><use href="#pt"/></g>
<g id="p4-next" class="n" transform="translate(448 1536)"><rect x="1.5" y="1.5" width="115" height="45" rx="2" fill="#4f70c4"/><use href="#pt"/></g>
</g>
<g id="window-edge" fill="#121018">
<rect x="0" y="1721" width="3554" height="3"/>
<rect x="3546" y="0" width="8" height="1724"/>
</g>
</svg>
